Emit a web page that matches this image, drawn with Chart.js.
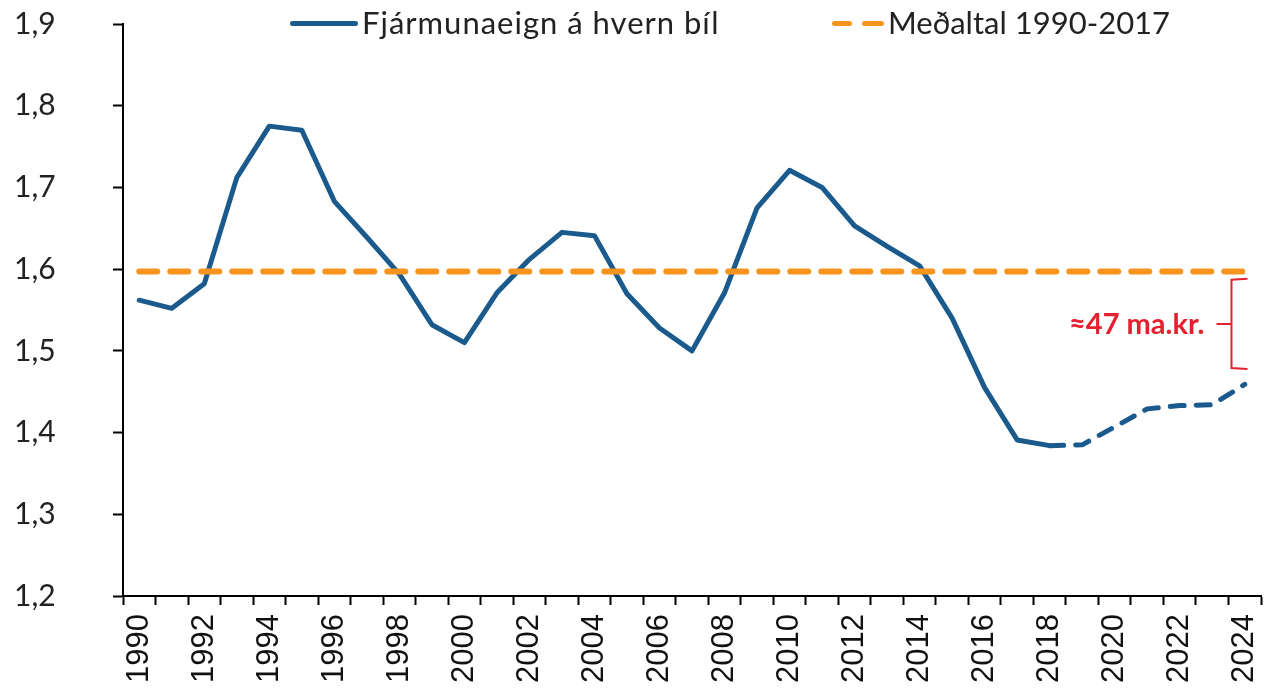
<!DOCTYPE html>
<html>
<head>
<meta charset="utf-8">
<script src="https://cdn.jsdelivr.net/npm/chart.js@4"></script>
<style>
  body { margin: 0; background: #fff; }
  #wrap { position: relative; width: 1268px; height: 689px; }
  .legend { position: absolute; top: 3px; font-family: Lato, "Open Sans", sans-serif; font-size: 31px; color: #222; white-space: nowrap; }
  .sw { position: absolute; top: 21px; height: 5px; }
</style>
</head>
<body>
<div id="wrap">
  <canvas id="chart" width="1268" height="689"></canvas>
  <div class="sw" style="left:290px;width:68px;background:#1b5a8c;border-radius:3px"></div>
  <div class="legend" style="left:362px;letter-spacing:1px">Fjármunaeign á hvern bíl</div>
  <div class="sw" style="left:832px;width:20px;background:#f7941d;border-radius:3px"></div>
  <div class="sw" style="left:862px;width:22px;background:#f7941d;border-radius:3px"></div>
  <div class="legend" style="left:888px">Meðaltal 1990-2017</div>
</div>
<script>
// ár
const years = [];
for (let y = 1990; y <= 2024; y++) years.push(String(y));

// fjármunaeign á hvern bíl (lesið af mynd)
const perCar = [
  1.562, 1.552, 1.582, 1.712, 1.775, 1.770, 1.683, 1.639, 1.594, 1.532,
  1.510, 1.571, 1.612, 1.645, 1.641, 1.570, 1.528, 1.500, 1.571, 1.675,
  1.721, 1.700, 1.653, 1.628, 1.604, 1.540, 1.455, 1.391, 1.384, 1.385,
  1.407, 1.429, 1.433, 1.434, 1.459
];

// meðaltal 1990-2017
const avgValue = 1.597;
const avgLine = years.map(() => avgValue);

// spá byrjar eftir 2018
const forecastFrom = 28;

const yTicks = [1.2, 1.3, 1.4, 1.5, 1.6, 1.7, 1.8, 1.9];

// bil merking
const gapLabel = '≈47 ma.kr.';
const gapTop = 1.587;
const gapBottom = 1.479;

const blue = '#1b5a8c';
const orange = '#f7941d';
const red = '#e3202e';

const gapPlugin = {
  id: 'gapBracket',
  afterDatasetsDraw(chart) {
    const ctx = chart.ctx;
    const x = chart.scales.x;
    const y = chart.scales.y;
    const bx = (x.getPixelForValue(33) + x.getPixelForValue(34)) / 2 + 3;
    const top = y.getPixelForValue(gapTop);
    const bot = y.getPixelForValue(gapBottom);
    const mid = (top + bot) / 2;
    ctx.save();
    ctx.strokeStyle = red;
    ctx.lineWidth = 2;
    ctx.beginPath();
    ctx.moveTo(bx + 16, top - 1);
    ctx.lineTo(bx, top);
    ctx.lineTo(bx, bot);
    ctx.lineTo(bx + 16, bot + 1);
    ctx.moveTo(bx, mid);
    ctx.lineTo(bx - 15, mid);
    ctx.stroke();
    ctx.fillStyle = red;
    ctx.font = 'bold 29px Lato, "Open Sans", sans-serif';
    ctx.textAlign = 'right';
    ctx.textBaseline = 'middle';
    ctx.fillText(gapLabel, bx - 27, mid + 1);
    ctx.restore();
  }
};

new Chart(document.getElementById('chart'), {
  type: 'line',
  data: {
    labels: years,
    datasets: [
      {
        label: 'Meðaltal 1990-2017',
        data: avgLine,
        borderColor: orange,
        borderWidth: 6,
        borderDash: [18, 13],
        borderCapStyle: 'round',
        pointRadius: 0,
        tension: 0
      },
      {
        label: 'Fjármunaeign á hvern bíl',
        data: perCar,
        borderColor: blue,
        borderWidth: 5,
        borderCapStyle: 'round',
        borderJoinStyle: 'round',
        pointRadius: 0,
        tension: 0,
        segment: {
          borderDash: c => c.p0DataIndex >= forecastFrom ? [14, 12] : undefined
        }
      }
    ]
  },
  options: {
    responsive: false,
    animation: false,
    layout: { padding: { top: 24, right: 7, left: 14, bottom: 0 } },
    plugins: {
      legend: { display: false },
      tooltip: { enabled: false }
    },
    scales: {
      x: {
        offset: true,
        grid: {
          offset: true,
          drawOnChartArea: false,
          drawTicks: true,
          tickLength: 9,
          tickWidth: 2,
          tickColor: '#000'
        },
        border: { color: '#000', width: 2 },
        ticks: {
          autoSkip: false,
          maxRotation: 90,
          minRotation: 90,
          padding: 9,
          color: '#111',
          font: { family: '"Liberation Sans", Arial, sans-serif', size: 31 },
          callback: function(v, i) { return i % 2 === 0 ? years[i] : ''; }
        },
        afterFit: s => {
          s.height = 93;
          s.paddingLeft = 0;
          s.paddingRight = 0;
        }
      },
      y: {
        min: 1.2,
        max: 1.9,
        afterBuildTicks: s => { s.ticks = yTicks.map(v => ({ value: v })); },
        grid: {
          drawOnChartArea: false,
          tickLength: 10,
          tickWidth: 2,
          tickColor: '#000'
        },
        border: { color: '#000', width: 2 },
        ticks: {
          color: '#222',
          padding: 3,
          crossAlign: 'far',
          font: { family: 'Lato, "Open Sans", sans-serif', size: 30 },
          callback: v => v.toFixed(1).replace('.', ',')
        },
        afterFit: s => {
          s.width = 109;
          s.paddingTop = 0;
          s.paddingBottom = 0;
        }
      }
    }
  },
  plugins: [gapPlugin]
});
</script>
</body>
</html>
